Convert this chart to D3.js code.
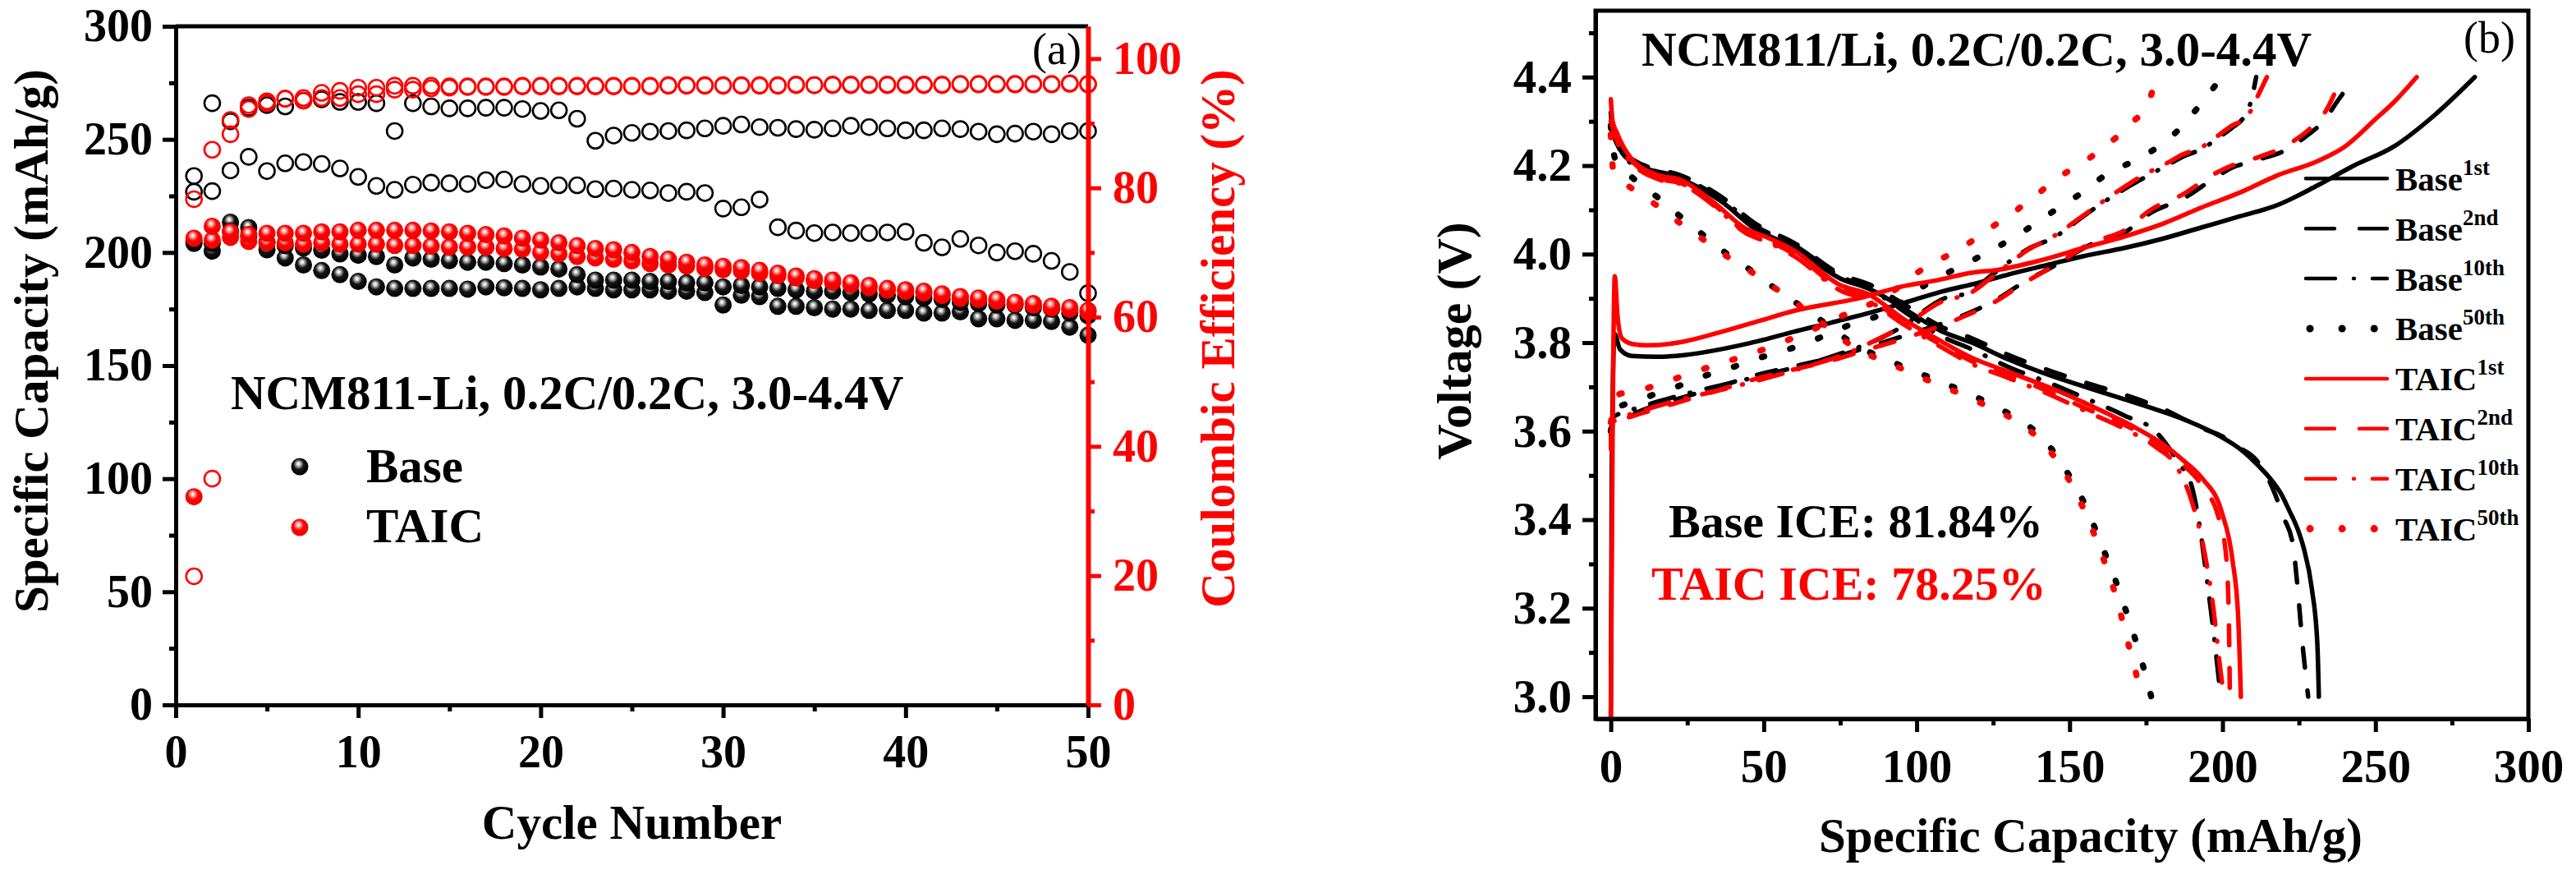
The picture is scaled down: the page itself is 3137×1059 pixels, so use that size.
<!DOCTYPE html>
<html>
<head>
<meta charset="utf-8">
<script src="https://cdn.jsdelivr.net/npm/d3@7"></script>
<style>
  html, body { margin: 0; padding: 0; background: #fff; }
  svg { display: block; }
  text { font-family: "Liberation Serif", "Times New Roman", serif; font-weight: bold; }
</style>
</head>
<body>
<svg id="chart"></svg>
<script>
// ---------- panel (a): cycling data ----------
const cycles = [1,2,3,4,5,6,7,8,9,10,11,12,13,14,15,16,17,18,19,20,21,22,23,24,25,
  26,27,28,29,30,31,32,33,34,35,36,37,38,39,40,41,42,43,44,45,46,47,48,49,50];

// discharge capacity (mAh/g), two cells each
const baseCapA = [204,200.6,213.4,211,201.2,197.6,194.5,192,190.2,187.2,184.8,184.1,184.1,184.1,184.1,183.8,184.8,184.4,184.1,183.5,
  184.1,184.8,184.1,183.5,183.5,183.5,182.9,182.9,182.3,176.8,181.1,180.5,176.2,176.2,175.6,175,175,174.4,174.4,174.4,
  173.2,173.2,173.8,170.7,170.7,170,170,169.5,167,163.4];
const baseCapB = [205,204,209.5,207,204.5,203,202,201,199.4,198.8,198.2,194.5,197.6,197,196.4,195.7,195.7,195.1,194.5,193.6,
  192.7,190.2,187.8,187.8,187.8,187.2,187.2,186.6,186.6,184.8,185.4,184.8,184.1,183.5,182.9,182.9,182.3,181.7,181.1,180.5,
  179.9,179.3,178,177.4,176.8,176.8,175.6,175,173.2,172];
const taicCapA = [206.3,211.6,209.1,207.9,208.5,208.5,208.5,209.1,209.1,209.8,209.8,209.8,209.8,209.5,209.1,208.5,207.9,207.3,206.3,205.5,
  204.3,203,201.8,201.2,200,198.2,197,195.7,194.5,193.9,193.3,192.1,190.9,189.6,188.4,187.8,186.6,185.4,184.1,183.5,
  182.9,181.7,180.5,179.9,179.3,178,177.4,176.2,175.6,174.4];
const taicCapB = [92,205.5,206.7,204.9,204.3,204.3,203.7,204.3,203.7,203.7,203.7,203.1,203.1,202.8,202.4,202.4,202.4,201.8,201.5,200,
  199.4,198.2,197.6,197,196.3,195.1,194.5,194,193,192.4,191.8,190.8,189.8,188.8,187.6,186.9,185.8,184.6,183.4,182.8,
  182.1,181,179.8,179.2,178.5,177.3,176.7,175.5,174.9,173.7];

// coulombic efficiency (%)
const baseCEHi = [81.84,93.1,90.3,92.4,92.8,92.6,93.5,93.7,93.3,93.3,93.1,88.8,93.1,92.6,92.3,92.3,92.4,92.4,92.2,91.9,
  92.0,90.7,87.3,88.1,88.5,88.7,88.8,88.9,89.2,89.6,89.8,89.4,89.3,89.1,89.0,89.2,89.6,89.4,89.2,88.9,
  88.9,89.2,89.1,88.7,88.3,88.4,88.7,88.3,88.8,88.8];
const baseCELo = [79.4,79.5,82.7,84.8,82.6,83.8,84.0,83.7,83.0,81.7,80.3,79.7,80.5,80.8,80.7,80.6,81.2,81.3,80.6,80.3,
  80.4,80.4,79.8,79.9,79.7,79.6,79.2,79.4,79.2,76.8,77.0,78.2,73.9,73.4,73.0,73.1,73.0,73.0,73.1,73.2,
  71.5,70.8,72.1,71.1,70.0,70.2,69.8,68.7,67.0,63.7];
const taicCEA = [78.25,85.9,90.5,92.8,93.4,93.8,93.9,94.7,95.0,95.5,95.5,95.8,95.8,95.8,95.7,95.7,95.7,95.7,95.8,95.8,
  95.8,95.8,95.8,95.8,95.8,95.8,95.9,95.9,95.9,95.9,95.9,95.9,95.9,96.0,95.9,96.0,96.0,96.0,96.0,96.0,
  96.0,96.0,96.1,96.1,96.1,96.1,96.1,96.1,96.2,96.1];
const taicCEB = [19.9,35.0,88.3,92.2,93.1,93.8,93.5,93.9,93.9,94.5,94.5,95.2,95.2,95.4,95.5,95.6,95.6,95.6,95.7,95.7,
  95.7,95.7,95.7,95.7,95.7,95.7,95.8,95.8,95.8,95.8,95.8,95.8,95.8,95.9,95.9,95.9,95.9,95.9,95.9,95.9,
  95.9,95.9,96.0,96.0,96.0,96.0,96.0,96.0,96.1,96.0];

const cycleTicks = [0,10,20,30,40,50];
const cycleMinor = [5,15,25,35,45];
const capTicks = [0,50,100,150,200,250,300];
const capMinor = [25,75,125,175,225,275];
const ceTicks = [0,20,40,60,80,100];
const ceMinor = [10,30,50,70,90];

// ---------- panel (b): voltage profiles [capacity, voltage] ----------
const base1Charge = [[0,2.95],[0.3,3.5],[1.2,3.82],[3,3.785],[6.8,3.77],[15,3.768],[24,3.772],[36,3.785],[48,3.803],[60,3.825],
  [72,3.845],[85,3.868],[96,3.89],[108,3.915],[120,3.935],[130,3.954],[143,3.976],[155,3.996],[168,4.014],[180,4.034],
  [193,4.06],[206,4.086],[218,4.111],[231,4.155],[243,4.2],[256,4.243],[269,4.312],[282.5,4.4]];
const base1Discharge = [[0,4.32],[0.5,4.28],[3,4.237],[7.7,4.205],[12.4,4.19],[22,4.172],[36,4.12],[47,4.058],[60,4.015],[75,3.945],
  [85,3.92],[96,3.876],[108,3.826],[118,3.8],[130,3.762],[144,3.725],[156,3.698],[168,3.672],[180,3.645],[189,3.622],
  [198,3.593],[206.8,3.554],[212,3.52],[215.7,3.492],[219,3.46],[222,3.418],[224.5,3.38],[226.5,3.337],[229.2,3.244],
  [231,3.12],[231.5,3.0]];
const base2Charge = [[0,3.58],[0.5,3.622],[7.7,3.64],[12.4,3.653],[24.4,3.678],[36.4,3.703],[48.3,3.728],[60.3,3.747],[72.3,3.766],
  [84.2,3.79],[96.2,3.816],[114,3.858],[126.3,3.898],[134,3.932],[145.3,3.975],[157,4.022],[168.3,4.05],[176.5,4.093],
  [187,4.125],[197,4.17],[203,4.195],[210,4.21],[222,4.24],[228,4.27],[233,4.3],[238,4.35],[243.4,4.4]];
const base2Discharge = [[0,4.3],[3,4.24],[8,4.21],[13,4.195],[22,4.18],[36,4.13],[47,4.07],[60,4.025],[75,3.955],[85,3.93],
  [96,3.886],[108,3.836],[118,3.81],[130,3.772],[143,3.738],[155,3.71],[168,3.682],[180,3.652],[193.5,3.606],[200,3.588],
  [205,3.565],[211,3.535],[215.8,3.48],[220,3.405],[223,3.344],[224.5,3.25],[226,3.13],[228,3.0]];
const base10Charge = [[0,3.59],[0.5,3.63],[10,3.655],[25,3.685],[40,3.71],[52,3.73],[66,3.755],[77,3.78],[85,3.8],[95,3.835],
  [109,3.9],[117,3.913],[125,3.955],[136.5,4.012],[144.7,4.037],[156,4.093],[165.3,4.136],[174.5,4.173],[181.7,4.2],
  [187,4.22],[194,4.24],[198,4.26],[203,4.285],[207,4.31],[209.5,4.35],[211,4.4]];
const base10Discharge = [[0,4.29],[3,4.235],[8,4.2],[13,4.19],[22,4.175],[36,4.125],[47,4.065],[60,4.02],[75,3.95],[85,3.92],
  [96,3.87],[108,3.815],[118,3.785],[130,3.745],[143,3.71],[155,3.675],[168,3.635],[178,3.6],[185.5,3.53],[190,3.474],
  [192.5,3.386],[195,3.26],[197,3.15],[199.4,3.0]];
const base50Charge = [[0,3.6],[2.3,3.653],[7,3.665],[15,3.685],[22.2,3.702],[30.3,3.724],[38.8,3.742],[46.4,3.761],[55.3,3.779],
  [63.2,3.797],[71,3.819],[78.1,3.84],[87.8,3.862],[95,3.89],[101.2,3.923],[108,3.95],[116,3.978],[123.7,4.006],[130.9,4.034],
  [138.6,4.068],[145.8,4.102],[153.5,4.136],[162.7,4.183],[170.9,4.21],[178.6,4.241],[185.5,4.28],[191.8,4.33],[197.5,4.38],[199.5,4.4]];
const base50Discharge = [[0,4.29],[1.4,4.215],[7.5,4.17],[15,4.13],[22.2,4.088],[29,4.05],[37.5,4.003],[44.6,3.969],[51.8,3.932],
  [59.3,3.896],[66.8,3.86],[80,3.795],[93.5,3.752],[101.2,3.73],[109,3.708],[117,3.685],[124.5,3.66],[132,3.632],[140,3.592],
  [146,3.542],[151,3.486],[156,3.42],[160,3.35],[164,3.282],[167.5,3.213],[171,3.14],[174,3.07],[176.7,3.0]];

const taic1Charge = [[0,2.95],[0.6,3.6],[1.3,3.95],[2.2,3.86],[3.6,3.81],[7,3.797],[12,3.794],[22,3.8],[35,3.822],[48,3.848],
  [60,3.872],[81,3.9],[96,3.928],[106,3.94],[118,3.958],[127,3.965],[140,3.985],[155,4.015],[168,4.04],[181,4.07],
  [193,4.105],[206,4.14],[218,4.178],[231,4.21],[240,4.243],[250,4.305],[256,4.343],[263.5,4.4]];
const taic1Discharge = [[0,4.35],[0.6,4.3],[1.8,4.277],[6.8,4.215],[15.7,4.178],[22.7,4.168],[33.6,4.117],[44,4.058],[51.4,4.037],
  [60,4.008],[75,3.93],[84,3.91],[96,3.852],[108,3.803],[118,3.766],[130,3.734],[144,3.697],[162,3.641],[171,3.61],
  [180,3.573],[187,3.535],[193.4,3.493],[199.7,3.418],[203.3,3.307],[205.1,3.183],[206,3.0]];
const taic2Charge = [[0,3.56],[0.5,3.615],[7.7,3.635],[12.4,3.645],[24.4,3.67],[36.4,3.695],[48.3,3.72],[60.3,3.74],[72.3,3.76],
  [84.2,3.785],[96.2,3.81],[114,3.855],[126.3,3.895],[134,3.93],[145.3,3.975],[157,4.025],[168.3,4.055],[176.5,4.1],
  [187,4.135],[197,4.18],[203,4.2],[210,4.215],[222,4.25],[228,4.28],[233,4.315],[239,4.4]];
const taic2Discharge = [[0,4.3],[2,4.26],[7,4.21],[16,4.17],[23,4.16],[34,4.11],[44,4.05],[52,4.028],[60,4.0],[75,3.922],
  [84,3.9],[96,3.845],[108,3.795],[118,3.758],[130,3.726],[143,3.69],[155,3.652],[168,3.614],[180,3.565],[187,3.525],
  [194,3.47],[198.5,3.41],[201,3.33],[202,3.2],[202.4,3.0]];
const taic10Charge = [[0,3.57],[0.5,3.62],[10,3.645],[25,3.675],[40,3.7],[52,3.722],[66,3.75],[77,3.775],[85,3.8],[95,3.835],
  [109,3.895],[117,3.91],[125,3.95],[136.5,4.01],[144.7,4.04],[156,4.095],[165.3,4.14],[174.5,4.18],[181.7,4.205],
  [187,4.225],[194,4.245],[198,4.265],[203,4.29],[208,4.31],[211,4.35],[214.5,4.4]];
const taic10Discharge = [[0,4.3],[2,4.255],[7,4.205],[16,4.168],[23,4.158],[34,4.108],[44,4.048],[52,4.025],[60,3.995],[75,3.918],
  [84,3.895],[96,3.84],[108,3.79],[118,3.752],[130,3.72],[143,3.684],[155,3.646],[168,3.605],[178,3.565],[185,3.52],
  [190,3.44],[194,3.33],[197,3.2],[199.5,3.05],[200.5,3.0]];
const taic50Charge = [[0,3.62],[2.9,3.684],[8.1,3.69],[16.6,3.708],[24.6,3.727],[34,3.749],[42.4,3.767],[50.5,3.786],[58,3.806],
  [65.6,3.828],[73.5,3.854],[81.8,3.879],[89,3.9],[95,3.93],[100.6,3.96],[108.3,3.99],[116,4.02],[123.7,4.057],[131.4,4.093],
  [138.6,4.131],[146.8,4.175],[155,4.21],[162.7,4.249],[169.9,4.294],[176,4.347],[178.5,4.4]];
const taic50Discharge = [[0,4.27],[0.8,4.19],[7.5,4.145],[15,4.11],[22.6,4.07],[30,4.034],[37.5,3.997],[44.6,3.966],[51.8,3.932],
  [59.3,3.896],[66.8,3.856],[79.5,3.79],[93.5,3.746],[101.2,3.722],[109,3.7],[116.5,3.678],[124.2,3.653],[132,3.625],
  [139.6,3.585],[145.6,3.536],[150.9,3.476],[155,3.418],[159,3.35],[162.6,3.281],[165.7,3.214],[168.4,3.14],[171.1,3.07],[173.5,3.0]];

const capBTicks = [0,50,100,150,200,250,300];
const capBMinor = [25,75,125,175,225,275];
const voltTicks = [3.0,3.2,3.4,3.6,3.8,4.0,4.2,4.4];
const voltMinor = [3.1,3.3,3.5,3.7,3.9,4.1,4.3,4.5];

const legendNames = ['Base','Base','Base','Base','TAIC','TAIC','TAIC','TAIC'];
const legendSups = ['1st','2nd','10th','50th','1st','2nd','10th','50th'];

// ---------- setup ----------
const W = 3137, H = 1059;
const BLACK = '#000', RED = '#ff0000';
const svg = d3.select('#chart').attr('width', W).attr('height', H);
const defs = svg.append('defs');

function sphere(id, stops) {
  const g = defs.append('radialGradient').attr('id', id)
    .attr('cx', '45%').attr('cy', '40%').attr('r', '58%')
    .attr('fx', '42%').attr('fy', '33%');
  stops.forEach(s => g.append('stop').attr('offset', s[0]).attr('stop-color', s[1]));
}
sphere('gBlack', [['0%','#ffffff'],['14%','#e0e0e0'],['30%','#8c8c8c'],['52%','#141414'],['100%','#000000']]);
sphere('gRed', [['0%','#ffffff'],['14%','#ffd6d6'],['30%','#ff7a7a'],['52%','#ff0000'],['100%','#f20000']]);

function styleAxis(g, color, size) {
  g.selectAll('.domain').attr('stroke', color).attr('stroke-width', 5);
  g.selectAll('.tick line').attr('stroke', color).attr('stroke-width', 5);
  g.selectAll('.tick text').attr('fill', color).style('font-size', size + 'px')
    .style('font-family', '"Liberation Serif", "Times New Roman", serif').style('font-weight', 'bold');
}

// ================= panel (a) =================
const A = { left: 214, right: 1325, top: 32, bottom: 858 };
const xA = d3.scaleLinear().domain([0, 50]).range([A.left, A.right]);
const yCap = d3.scaleLinear().domain([0, 300]).range([A.bottom, A.top]);
const yCE = d3.scaleLinear().domain([0, 105]).range([A.bottom, A.top]);

const pa = svg.append('g');

function openDots(vals, color) {
  pa.append('g').selectAll('circle').data(vals).enter().append('circle')
    .attr('cx', (d, i) => xA(cycles[i])).attr('cy', d => yCE(d)).attr('r', 9.5)
    .attr('fill', 'none').attr('stroke', color).attr('stroke-width', 2.6);
}
function ballDots(vals, grad) {
  pa.append('g').selectAll('circle').data(vals).enter().append('circle')
    .attr('cx', (d, i) => xA(cycles[i])).attr('cy', d => yCap(d)).attr('r', 10.5)
    .attr('fill', `url(#${grad})`);
}
openDots(baseCELo, BLACK);
openDots(baseCEHi, BLACK);
openDots(taicCEB, RED);
openDots(taicCEA, RED);
ballDots(baseCapA, 'gBlack');
ballDots(baseCapB, 'gBlack');
ballDots(taicCapB, 'gRed');
ballDots(taicCapA, 'gRed');

// axes
const aLeft = pa.append('g').attr('transform', `translate(${A.left},0)`)
  .call(d3.axisLeft(yCap).tickValues(capTicks).tickSize(16).tickSizeOuter(0).tickPadding(12));
styleAxis(aLeft, BLACK, 56);
const aLeftMin = pa.append('g').attr('transform', `translate(${A.left},0)`)
  .call(d3.axisLeft(yCap).tickValues(capMinor).tickSize(8).tickSizeOuter(0).tickFormat(''));
styleAxis(aLeftMin, BLACK, 56);

const aBottom = pa.append('g').attr('transform', `translate(0,${A.bottom})`)
  .call(d3.axisBottom(xA).tickValues(cycleTicks).tickSize(16).tickSizeOuter(0).tickPadding(20));
styleAxis(aBottom, BLACK, 56);
const aBottomMin = pa.append('g').attr('transform', `translate(0,${A.bottom})`)
  .call(d3.axisBottom(xA).tickValues(cycleMinor).tickSize(8).tickSizeOuter(0).tickFormat(''));
styleAxis(aBottomMin, BLACK, 56);

pa.append('line').attr('x1', A.left).attr('x2', A.right).attr('y1', A.top).attr('y2', A.top)
  .attr('stroke', BLACK).attr('stroke-width', 5);

const aRight = pa.append('g').attr('transform', `translate(${A.right},0)`)
  .call(d3.axisRight(yCE).tickValues(ceTicks).tickSize(16).tickSizeOuter(0).tickPadding(14));
styleAxis(aRight, RED, 56);
aRight.select('.domain').attr('stroke-width', 6);
const aRightMin = pa.append('g').attr('transform', `translate(${A.right},0)`)
  .call(d3.axisRight(yCE).tickValues(ceMinor).tickSize(8).tickSizeOuter(0).tickFormat(''));
styleAxis(aRightMin, RED, 56);

// titles
pa.append('text').attr('transform', 'translate(58,415) rotate(-90)').attr('text-anchor', 'middle')
  .style('font-size', '59px').text('Specific Capacity (mAh/g)');
pa.append('text').attr('transform', 'translate(1503,412) rotate(-90)').attr('text-anchor', 'middle')
  .attr('fill', RED).style('font-size', '59px').text('Coulombic Efficiency (%)');
pa.append('text').attr('x', (A.left + A.right) / 2).attr('y', 1021).attr('text-anchor', 'middle')
  .style('font-size', '59px').text('Cycle Number');
pa.append('text').attr('x', 1317).attr('y', 78).attr('text-anchor', 'end')
  .style('font-size', '54px').style('font-weight', 'normal').text('(a)');
pa.append('text').attr('x', 281).attr('y', 498).style('font-size', '59px')
  .text('NCM811-Li, 0.2C/0.2C, 3.0-4.4V');

// legend (a)
pa.append('circle').attr('cx', 365).attr('cy', 568).attr('r', 10.5).attr('fill', 'url(#gBlack)');
pa.append('text').attr('x', 446).attr('y', 587).style('font-size', '59px').text('Base');
pa.append('circle').attr('cx', 365).attr('cy', 642).attr('r', 10.5).attr('fill', 'url(#gRed)');
pa.append('text').attr('x', 446).attr('y', 660).style('font-size', '59px').text('TAIC');

// ================= panel (b) =================
const B = { left: 1943, right: 3079, top: 13, bottom: 875 };
const xB = d3.scaleLinear().domain([-5, 300]).range([B.left, B.right]);
const yV = d3.scaleLinear().domain([2.95, 4.55]).range([B.bottom, B.top]);

const pb = svg.append('g');
defs.append('clipPath').attr('id', 'clipB').append('rect')
  .attr('x', B.left).attr('y', B.top).attr('width', B.right - B.left).attr('height', B.bottom - B.top);

const dashes = { solid: null, dash: '24,28', dashdot: '30,20,1,20', dot: '3,33' };
const widths = { solid: 5.5, dash: 5.5, dashdot: 5.5, dot: 7.5 };

const curves = [
  { d: base50Charge, c: BLACK, s: 'dot' }, { d: base50Discharge, c: BLACK, s: 'dot' },
  { d: base10Charge, c: BLACK, s: 'dashdot' }, { d: base10Discharge, c: BLACK, s: 'dashdot' },
  { d: base2Charge, c: BLACK, s: 'dash' }, { d: base2Discharge, c: BLACK, s: 'dash' },
  { d: base1Charge, c: BLACK, s: 'solid' }, { d: base1Discharge, c: BLACK, s: 'solid' },
  { d: taic50Charge, c: RED, s: 'dot' }, { d: taic50Discharge, c: RED, s: 'dot' },
  { d: taic10Charge, c: RED, s: 'dashdot' }, { d: taic10Discharge, c: RED, s: 'dashdot' },
  { d: taic2Charge, c: RED, s: 'dash' }, { d: taic2Discharge, c: RED, s: 'dash' },
  { d: taic1Charge, c: RED, s: 'solid' }, { d: taic1Discharge, c: RED, s: 'solid' }
];

const line = d3.line().x(d => xB(d[0])).y(d => yV(d[1])).curve(d3.curveMonotoneX);
const curveG = pb.append('g').attr('clip-path', 'url(#clipB)');
curves.forEach(cv => {
  curveG.append('path').attr('d', line(cv.d)).attr('fill', 'none')
    .attr('stroke', cv.c).attr('stroke-width', widths[cv.s])
    .attr('stroke-linecap', 'round').attr('stroke-linejoin', 'round')
    .attr('stroke-dasharray', dashes[cv.s]);
});

// frame + axes
pb.append('rect').attr('x', B.left).attr('y', B.top).attr('width', B.right - B.left).attr('height', B.bottom - B.top)
  .attr('fill', 'none').attr('stroke', BLACK).attr('stroke-width', 5);

const bLeft = pb.append('g').attr('transform', `translate(${B.left},0)`)
  .call(d3.axisLeft(yV).tickValues(voltTicks).tickSize(16).tickSizeOuter(0).tickPadding(13).tickFormat(d3.format('.1f')));
styleAxis(bLeft, BLACK, 57);
const bLeftMin = pb.append('g').attr('transform', `translate(${B.left},0)`)
  .call(d3.axisLeft(yV).tickValues(voltMinor).tickSize(8).tickSizeOuter(0).tickFormat(''));
styleAxis(bLeftMin, BLACK, 57);
const bBottom = pb.append('g').attr('transform', `translate(0,${B.bottom})`)
  .call(d3.axisBottom(xB).tickValues(capBTicks).tickSize(16).tickSizeOuter(0).tickPadding(21));
styleAxis(bBottom, BLACK, 57);
const bBottomMin = pb.append('g').attr('transform', `translate(0,${B.bottom})`)
  .call(d3.axisBottom(xB).tickValues(capBMinor).tickSize(8).tickSizeOuter(0).tickFormat(''));
styleAxis(bBottomMin, BLACK, 57);

pb.append('text').attr('transform', 'translate(1791,415) rotate(-90)').attr('text-anchor', 'middle')
  .style('font-size', '60px').text('Voltage (V)');
pb.append('text').attr('x', 2546).attr('y', 1037).attr('text-anchor', 'middle')
  .style('font-size', '59px').text('Specific Capacity (mAh/g)');
pb.append('text').attr('x', 3063).attr('y', 64).attr('text-anchor', 'end')
  .style('font-size', '54px').style('font-weight', 'normal').text('(b)');
pb.append('text').attr('x', 1999).attr('y', 80).style('font-size', '59px')
  .text('NCM811/Li, 0.2C/0.2C, 3.0-4.4V');
pb.append('text').attr('x', 2032).attr('y', 654).style('font-size', '58px').text('Base ICE: 81.84%');
pb.append('text').attr('x', 2011).attr('y', 730).attr('fill', RED).style('font-size', '58px').text('TAIC ICE: 78.25%');

// legend (b)
const legDash = { solid: null, dash: '35,30', dashdot: '36,22,1,22', dot: '0.1,39' };
const legStyles = ['solid', 'dash', 'dashdot', 'dot', 'solid', 'dash', 'dashdot', 'dot'];
legendNames.forEach((name, i) => {
  const y = 217.3 + i * 60.9;
  const s = legStyles[i];
  const col = i < 4 ? BLACK : RED;
  pb.append('line').attr('x1', s === 'dot' ? 2813 : 2808).attr('x2', 2907).attr('y1', y).attr('y2', y)
    .attr('stroke', col).attr('stroke-width', s === 'dot' ? 9 : 4.5)
    .attr('stroke-linecap', 'round').attr('stroke-dasharray', legDash[s]);
  const t = pb.append('text').attr('x', 2917).attr('y', y + 14.4).style('font-size', '41px').text(name);
  t.append('tspan').attr('dy', -19).style('font-size', '27px').text(legendSups[i]);
});
</script>
